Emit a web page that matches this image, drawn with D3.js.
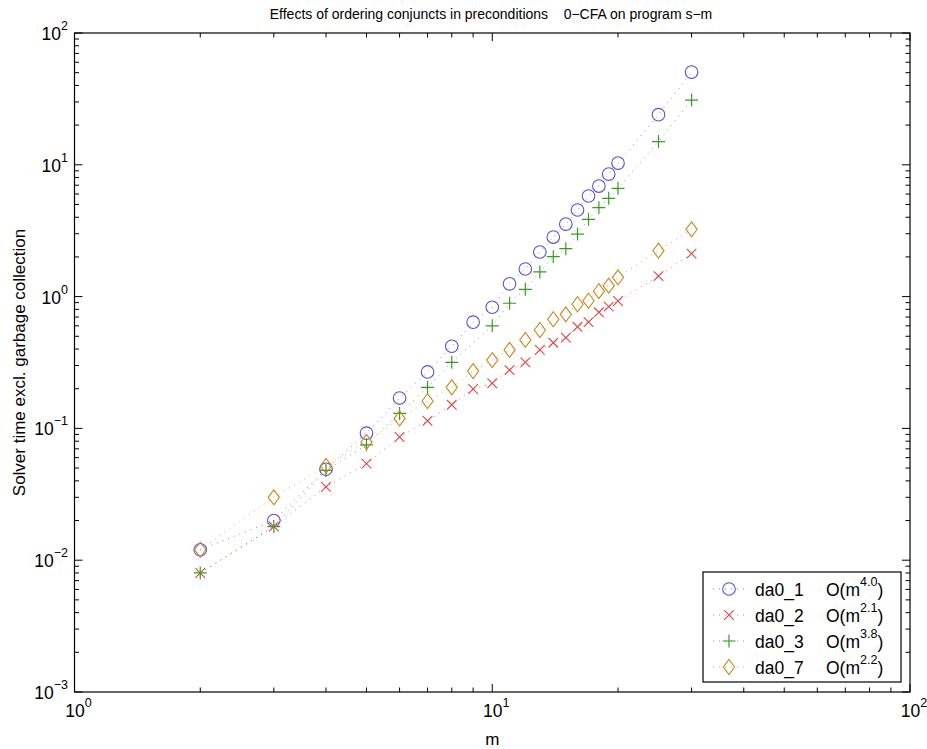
<!DOCTYPE html>
<html>
<head>
<meta charset="utf-8">
<script src="https://cdn.jsdelivr.net/npm/d3@7"></script>
<style>
  html, body { margin: 0; padding: 0; background: #fff; }
  text { font-family: "Liberation Sans", Arial, Helvetica, sans-serif; }
</style>
</head>
<body>
<svg id="chart" width="927" height="749"></svg>
<script>
// ---- data ----
const mValues = [2, 3, 4, 5, 6, 7, 8, 9, 10, 11, 12, 13, 14, 15, 16, 17, 18, 19, 20, 25, 30];
const da0_1 = [0.012, 0.020, 0.049, 0.092, 0.170, 0.268, 0.42, 0.64, 0.83, 1.25, 1.62, 2.18, 2.83, 3.55, 4.54, 5.8, 6.9, 8.5, 10.3, 24.0, 50.5];
const da0_2 = [0.008, 0.018, 0.036, 0.054, 0.086, 0.114, 0.151, 0.199, 0.22, 0.277, 0.317, 0.394, 0.447, 0.488, 0.59, 0.64, 0.76, 0.84, 0.926, 1.43, 2.12];
const da0_3 = [0.008, 0.018, 0.048, 0.075, 0.130, 0.205, 0.317, null, 0.60, 0.89, 1.135, 1.54, 2.01, 2.31, 2.98, 3.86, 4.73, 5.57, 6.63, 15.0, 31.0];
const da0_7 = [0.012, 0.030, 0.052, 0.079, 0.119, 0.161, 0.205, 0.272, 0.33, 0.394, 0.469, 0.558, 0.673, 0.734, 0.875, 0.93, 1.10, 1.21, 1.40, 2.23, 3.24];
const seriesNames = ["da0_1", "da0_2", "da0_3", "da0_7"];
const seriesOrders = ["4.0", "2.1", "3.8", "2.2"];
const seriesValues = [da0_1, da0_2, da0_3, da0_7];
const xTickExps = [0, 1, 2];
const yTickExps = [-3, -2, -1, 0, 1, 2];
const titleText = "Effects of ordering conjuncts in preconditions    0\u2212CFA on program s\u2212m";
const xLabel = "m";
const yLabel = "Solver time excl. garbage collection";

// ---- styles ----
const colors = ["#5a4fd4", "#e04545", "#3a9a28", "#c8881e"];
const markers = ["circle", "x", "plus", "diamond"];

const svg = d3.select("#chart");
const L = 74.5, R = 910, T = 33, B = 692;
const x = d3.scaleLog().domain([1, 100]).range([L, R]);
const y = d3.scaleLog().domain([0.001, 100]).range([B, T]);

// title
svg.append("text").attr("x", 491).attr("y", 19).attr("text-anchor", "middle")
  .attr("font-size", 14).style("white-space", "pre").attr("xml:space", "preserve").text(titleText);

// axes box
svg.append("rect").attr("x", L).attr("y", T).attr("width", R - L).attr("height", B - T)
  .attr("fill", "none").attr("stroke", "#000").attr("stroke-width", 1.2);

// ticks (inward, all four sides)
const tickG = svg.append("g").attr("stroke", "#000").attr("stroke-width", 1);
const xTicks = x.ticks();
xTicks.forEach(v => {
  const major = Math.abs(Math.log10(v) - Math.round(Math.log10(v))) < 1e-9;
  const len = major ? 8 : 4.5;
  const px = x(v);
  tickG.append("line").attr("x1", px).attr("x2", px).attr("y1", B).attr("y2", B - len);
  tickG.append("line").attr("x1", px).attr("x2", px).attr("y1", T).attr("y2", T + len);
});
const yTicks = y.ticks();
yTicks.forEach(v => {
  const major = Math.abs(Math.log10(v) - Math.round(Math.log10(v))) < 1e-9;
  const len = major ? 8 : 4.5;
  const py = y(v);
  tickG.append("line").attr("y1", py).attr("y2", py).attr("x1", L).attr("x2", L + len);
  tickG.append("line").attr("y1", py).attr("y2", py).attr("x1", R).attr("x2", R - len);
});

// tick labels
xTickExps.forEach(e => {
  const t = svg.append("text").attr("x", x(Math.pow(10, e)) + 4).attr("y", 717).attr("text-anchor", "middle").attr("font-size", 17.5);
  t.append("tspan").text("10");
  t.append("tspan").attr("dy", -10).attr("font-size", 12.5).text(String(e));
});
yTickExps.forEach(e => {
  const t = svg.append("text").attr("x", 68).attr("y", y(Math.pow(10, e)) + 7).attr("text-anchor", "end").attr("font-size", 17.5);
  t.append("tspan").text("10");
  t.append("tspan").attr("dy", -10).attr("font-size", 12.5).text(e < 0 ? "\u2212" + (-e) : String(e));
});

// axis labels
svg.append("text").attr("x", x(10)).attr("y", 745).attr("text-anchor", "middle").attr("font-size", 17).text(xLabel);
svg.append("text").attr("transform", `translate(25,${(T + B) / 2}) rotate(-90)`).attr("text-anchor", "middle")
  .attr("font-size", 17).text(yLabel);

// marker drawing
function drawMarker(g, type, cx, cy, color) {
  if (type === "circle") {
    g.append("circle").attr("cx", cx).attr("cy", cy).attr("r", 6.3).attr("fill", "none").attr("stroke", color).attr("stroke-width", 1.1);
  } else if (type === "x") {
    const s = 4.8;
    g.append("path").attr("d", `M${cx - s},${cy - s}L${cx + s},${cy + s}M${cx - s},${cy + s}L${cx + s},${cy - s}`)
      .attr("stroke", color).attr("stroke-width", 1.1).attr("fill", "none");
  } else if (type === "plus") {
    const s = 6.5;
    g.append("path").attr("d", `M${cx - s},${cy}L${cx + s},${cy}M${cx},${cy - s}L${cx},${cy + s}`)
      .attr("stroke", color).attr("stroke-width", 1.2).attr("fill", "none");
  } else if (type === "diamond") {
    const w = 5.6, h = 7.5;
    g.append("path").attr("d", `M${cx},${cy - h}L${cx + w},${cy}L${cx},${cy + h}L${cx - w},${cy}Z`)
      .attr("stroke", color).attr("stroke-width", 1.1).attr("fill", "none");
  }
}

// series
const plotG = svg.append("g");
seriesValues.forEach((vals, i) => {
  const pts = mValues.map((m, j) => [m, vals[j]]).filter(d => d[1] != null);
  const line = d3.line().x(d => x(d[0])).y(d => y(d[1]));
  plotG.append("path").attr("d", line(pts)).attr("fill", "none").attr("stroke", colors[i])
    .attr("stroke-width", 1).attr("stroke-dasharray", "1,5").attr("opacity", 0.75);
});
seriesValues.forEach((vals, i) => {
  mValues.forEach((m, j) => {
    if (vals[j] != null) drawMarker(plotG, markers[i], x(m), y(vals[j]), colors[i]);
  });
});

// legend
const lg = svg.append("g");
lg.append("rect").attr("x", 703).attr("y", 572).attr("width", 198).attr("height", 110)
  .attr("fill", "#fff").attr("stroke", "#000").attr("stroke-width", 1.2);
seriesNames.forEach((name, i) => {
  const cy = 589 + i * 26;
  lg.append("line").attr("x1", 713).attr("x2", 745).attr("y1", cy).attr("y2", cy)
    .attr("stroke", colors[i]).attr("stroke-dasharray", "1,5").attr("stroke-width", 1).attr("opacity", 0.75);
  drawMarker(lg, markers[i], 729, cy, colors[i]);
  lg.append("text").attr("x", 755).attr("y", cy + 6.5).attr("font-size", 17.5).text(name);
  const t = lg.append("text").attr("x", 826).attr("y", cy + 6.5).attr("font-size", 17.5);
  t.append("tspan").text("O(m");
  t.append("tspan").attr("dy", -10).attr("font-size", 12.5).text(seriesOrders[i]);
  t.append("tspan").attr("dy", 10).text(")");
});
</script>
</body>
</html>
